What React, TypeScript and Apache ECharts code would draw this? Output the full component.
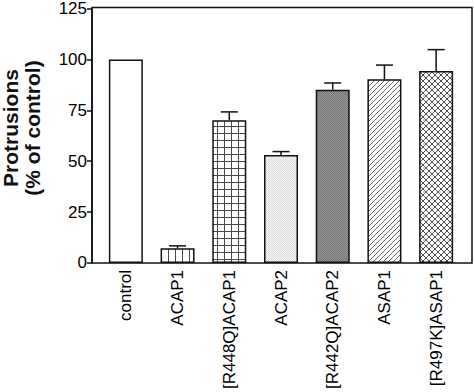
import React, { useEffect, useRef } from "react";
import * as echarts from "echarts";

const categories = ["control", "ACAP1", "[R448Q]ACAP1", "ACAP2", "[R442Q]ACAP2", "ASAP1", "[R497K]ASAP1"];
const values = [100, 7.2, 70.1, 53, 85.1, 90.2, 94.3];
const errors = [0, 1.2, 4.1, 1.7, 3.3, 7, 10.5];
const yTicks = [0, 25, 50, 75, 100, 125];

function makePattern(w: number, h: number, draw: (ctx: CanvasRenderingContext2D) => void) {
  const c = document.createElement("canvas");
  c.width = w;
  c.height = h;
  const ctx = c.getContext("2d") as CanvasRenderingContext2D;
  ctx.fillStyle = "#ffffff";
  ctx.fillRect(0, 0, w, h);
  draw(ctx);
  return { image: c, imageWidth: w, imageHeight: h, repeat: "repeat" };
}

function buildFills(): any[] {
  const line = "#4a4a4a";
  const vert = makePattern(7, 7, (ctx) => {
    ctx.fillStyle = line;
    ctx.fillRect(0, 0, 1, 7);
  });
  const grid = makePattern(7, 7, (ctx) => {
    ctx.fillStyle = line;
    ctx.fillRect(0, 0, 1, 7);
    ctx.fillRect(0, 0, 7, 1);
  });
  const light = makePattern(2, 2, (ctx) => {
    ctx.fillStyle = "#f6f6f6";
    ctx.fillRect(0, 0, 2, 2);
    ctx.fillStyle = "#dcdcdc";
    ctx.fillRect(0, 0, 1, 1);
    ctx.fillRect(1, 1, 1, 1);
  });
  const dark = makePattern(2, 2, (ctx) => {
    ctx.fillStyle = "#969696";
    ctx.fillRect(0, 0, 2, 2);
    ctx.fillStyle = "#767676";
    ctx.fillRect(0, 0, 1, 1);
    ctx.fillRect(1, 1, 1, 1);
  });
  const diag = makePattern(5, 5, (ctx) => {
    ctx.fillStyle = "#6a6a6a";
    for (let i = 0; i < 5; i++) ctx.fillRect(i, 4 - i, 1, 1);
  });
  const cross = makePattern(6, 6, (ctx) => {
    ctx.fillStyle = "#505050";
    for (let i = 0; i < 6; i++) {
      ctx.fillRect(i, 5 - i, 1, 1);
      ctx.fillRect(i, i, 1, 1);
    }
  });
  return ["#ffffff", vert, grid, light, dark, diag, cross];
}

export default function App() {
  const ref = useRef<HTMLDivElement>(null);
  useEffect(() => {
    if (!ref.current) return;
    const chart = echarts.init(ref.current, null, { renderer: "svg" });
    const fills = buildFills();
    const font = "'Liberation Sans', Arial, sans-serif";
    chart.setOption({
      animation: false,
      grid: { left: 100, right: 12, top: 8, bottom: 129, containLabel: false },
      xAxis: {
        type: "category",
        data: categories,
        axisLine: { show: false },
        axisTick: { show: false },
        axisLabel: {
          rotate: 90,
          margin: 7,
          fontSize: 17,
          color: "#000",
          fontFamily: font,
          interval: 0,
        },
      },
      yAxis: {
        type: "value",
        min: yTicks[0],
        max: yTicks[yTicks.length - 1],
        interval: 25,
        offset: 8,
        axisLine: { show: true, lineStyle: { color: "#111", width: 1.5 } },
        axisTick: { show: true, length: 5, lineStyle: { color: "#111", width: 1.5 } },
        splitLine: { show: false },
        axisLabel: { fontSize: 17, color: "#000", margin: 5, fontFamily: font },
      },
      graphic: [
        {
          type: "rect",
          shape: { x: 92, y: 7.5, width: 380, height: 255.5 },
          style: { fill: "none", stroke: "#111", lineWidth: 1.5 },
          z: 100,
        },
        {
          type: "text",
          x: 21,
          y: 128,
          rotation: Math.PI / 2,
          style: {
            text: "Protrusions\n(% of control)",
            fontSize: 21,
            fontWeight: "bold",
            fontFamily: font,
            lineHeight: 22,
            align: "center",
            verticalAlign: "middle",
            fill: "#111",
          },
        },
      ],
      series: [
        {
          type: "bar",
          barWidth: 34,
          data: values.map((v, i) => ({
            value: v,
            itemStyle: { color: fills[i], borderColor: "#111", borderWidth: 1.5 },
          })),
        },
        {
          type: "custom",
          data: values.map((v, i) => [i, v, errors[i]]),
          renderItem: (params: any, api: any) => {
            const i = api.value(0);
            const v = api.value(1);
            const e = api.value(2);
            if (!e) return null;
            const base = api.coord([i, v]);
            const top = api.coord([i, v + e]);
            return {
              type: "group",
              children: [
                {
                  type: "line",
                  shape: { x1: base[0], y1: base[1], x2: top[0], y2: top[1] },
                  style: { stroke: "#111", lineWidth: 1.5 },
                },
                {
                  type: "line",
                  shape: { x1: top[0] - 8.5, y1: top[1], x2: top[0] + 8.5, y2: top[1] },
                  style: { stroke: "#111", lineWidth: 1.5 },
                },
              ],
            };
          },
          z: 5,
        },
      ],
    });
    return () => chart.dispose();
  }, []);
  return <div ref={ref} style={{ width: 474, height: 392, position: "absolute", left: 0, top: 0 }} />;
}
